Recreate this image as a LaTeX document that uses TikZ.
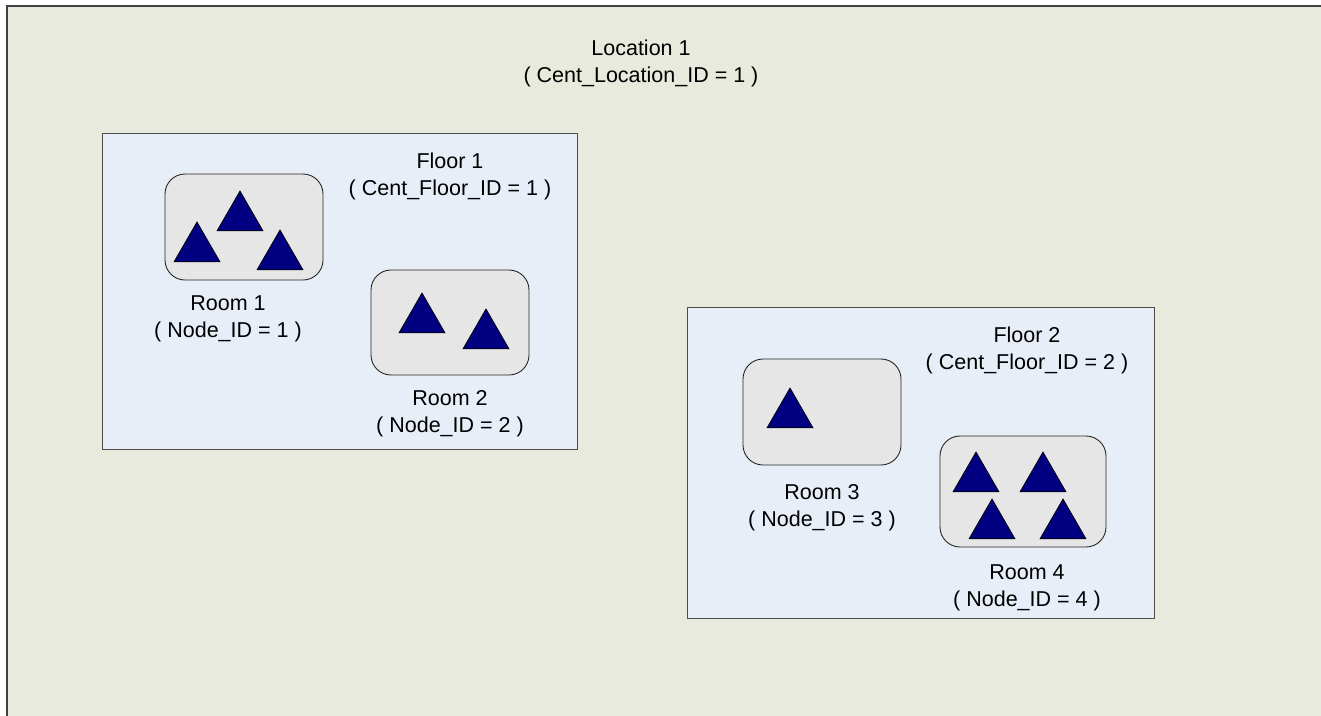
\documentclass[tikz,border=0pt]{standalone}
\usepackage{fontspec}
\setmainfont{Liberation Sans}
\usetikzlibrary{shapes.geometric}
\definecolor{sitebg}{HTML}{E9EADE}
\definecolor{floorbg}{HTML}{E8EEF8}
\definecolor{roombg}{HTML}{E6E6E6}
\definecolor{sensorblue}{HTML}{000080}
\begin{document}
\begin{tikzpicture}[x=1pt,y=-1pt,
  site node/.style={rectangle,fill=sitebg,draw=black!75,line width=1.6pt},
  floor node/.style={rectangle,fill=floorbg,draw=black!70,line width=1pt,inner sep=0pt},
  room node/.style={rectangle,rounded corners=20pt,fill=roombg,draw=black!85,line width=0.9pt,inner sep=0pt},
  sensor node/.style={regular polygon,regular polygon sides=3,minimum size=53pt,inner sep=0pt,fill=sensorblue,draw=black,line width=0.7pt},
  label node/.style={align=center,font=\fontsize{21.5}{27}\selectfont}]
  	\useasboundingbox (0,0) rectangle (1321,715);
  	\fill[white] (0,0) rectangle (1321,715);
  	\clip (0,0) rectangle (1321,715);
  	
  	\draw[site node] (7,6) rectangle (1340,730);
  	\node[label node] at (641,63) (site) {Location 1\\( Cent\_Location\_ID = 1 )};
  	
  	% floors
  	\node[floor node,minimum width=475pt,minimum height=316pt] at (339.5,291) (f1) {};
  	\node[floor node,minimum width=467pt,minimum height=311pt] at (920.5,462.5) (f2) {};
  	\node[label node] at (450,176) (f1l) {Floor 1\\( Cent\_Floor\_ID = 1 )};
  	\node[label node] at (1027,350) (f2l) {Floor 2\\( Cent\_Floor\_ID = 2 )};
  	
  	% rooms
  	\node[room node,minimum width=158pt,minimum height=106pt] at (244,227) (r1) {};
  	\node[room node,minimum width=158pt,minimum height=105pt] at (450,322.5) (r2) {};
  	\node[room node,minimum width=158pt,minimum height=106pt] at (822,412) (r3) {};
  	\node[room node,minimum width=166pt,minimum height=111pt] at (1023,491.5) (r4) {};
  	\node[label node] at (228,319) (r1l) {Room 1\\( Node\_ID = 1 )};
  	\node[label node] at (450,414) (r2l) {Room 2\\( Node\_ID = 2 )};
  	\node[label node] at (822,508) (r3l) {Room 3\\( Node\_ID = 3 )};
  	\node[label node] at (1027,588) (r4l) {Room 4\\( Node\_ID = 4 )};
  	
  	% sensors
  	\node[sensor node] at (240,217.5) (s1) {};
  	\node[sensor node] at (197,248.5) (s2) {};
  	\node[sensor node] at (280,256.5) (s3) {};
  	\node[sensor node] at (422,319.5) (s4) {};
  	\node[sensor node] at (486,335.5) (s5) {};
  	\node[sensor node] at (790,414.5) (s6) {};
  	\node[sensor node] at (976,478.5) (s7) {};
  	\node[sensor node] at (1043,478.5) (s8) {};
  	\node[sensor node] at (992,525.5) (s9) {};
  	\node[sensor node] at (1063,525.5) (s10) {};
\end{tikzpicture}
\end{document}
